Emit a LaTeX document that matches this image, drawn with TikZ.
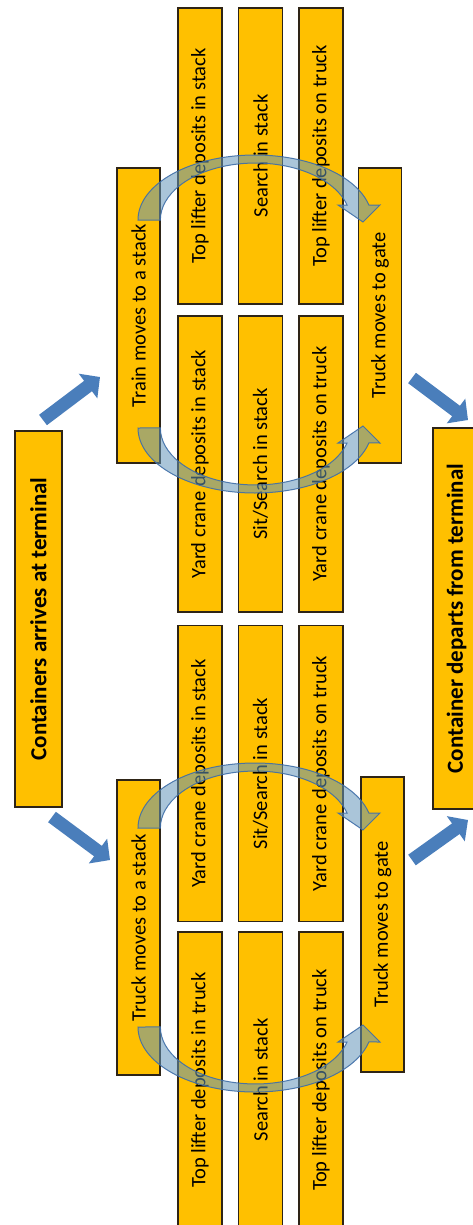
\documentclass[tikz,border=0pt]{standalone}
\usepackage{fontspec}
\setmainfont{Carlito}
\usetikzlibrary{arrows.meta}
\definecolor{boxfill}{HTML}{FFC000}
\definecolor{boxline}{HTML}{2E2416}
\definecolor{barrow}{HTML}{4A7EBB}
\definecolor{carrowfill}{RGB}{100,150,185}
\definecolor{carrowline}{HTML}{3F6EA8}
\newcommand\curvedarr[2]{%
  \begin{scope}[shift={(0,#1)}, yscale=#2]
    \path[carrow] (138,0) arc[start angle=180, end angle=346.7, x radius=117, y radius=65]
      -- (380,-15) -- (363,2) -- (338,-15) -- (347,-15)
      arc[start angle=344.7, end angle=180, x radius=95, y radius=57] -- cycle;
  \end{scope}}
\begin{document}
\begin{tikzpicture}[x=1pt,y=-1pt,
  stage/.style={draw=boxline, line width=1.5pt, fill=boxfill, rotate=90, inner sep=0pt,
    font=\fontsize{20.5}{24}\selectfont, text=black},
  colbox/.style={stage, minimum width=296pt, minimum height=44pt},
  sidebox/.style={stage, minimum width=295pt, minimum height=43pt},
  endbox/.style={stage, minimum height=47pt, font=\fontsize{23}{27}\selectfont\bfseries},
  blockarrow/.style={draw=barrow, line width=13pt, -{Triangle[length=15pt,width=30pt]}},
  carrow/.style={fill=carrowfill, fill opacity=0.55, draw=carrowline, draw opacity=0.9, line width=1pt}]
\useasboundingbox (0,0) rectangle (473,1225);
% stack operation columns
\node[colbox] (r1a) at (200,156) {Top lifter deposits in stack};
\node[colbox] (r1b) at (260.5,156) {Search in stack};
\node[colbox] (r1c) at (321,156) {Top lifter deposits on truck};
\node[colbox] (r2a) at (200,464) {Yard crane deposits in stack};
\node[colbox] (r2b) at (260.5,464) {Sit/Search in stack};
\node[colbox] (r2c) at (321,464) {Yard crane deposits on truck};
\node[colbox] (r3a) at (200,773.5) {Yard crane deposits in stack};
\node[colbox] (r3b) at (260.5,773.5) {Sit/Search in stack};
\node[colbox] (r3c) at (321,773.5) {Yard crane deposits on truck};
\node[colbox] (r4a) at (200,1080) {Top lifter deposits in truck};
\node[colbox] (r4b) at (260.5,1080) {Search in stack};
\node[colbox] (r4c) at (321,1080) {Top lifter deposits on truck};
% side boxes
\node[sidebox] (train) at (138.5,315.5) {Train moves to a stack};
\node[sidebox] (gate1) at (380,315.5) {Truck moves to gate};
\node[sidebox] (truck) at (138.5,927.5) {Truck moves to a stack};
\node[sidebox] (gate2) at (382.5,924.5) {Truck moves to gate};
% terminal boxes
\node[endbox, minimum width=376pt] (arr) at (38.5,619) {Containers arrives at terminal};
\node[endbox, minimum width=381pt] (dep) at (456.5,618.5) {Container departs from terminal};
% curved arrows
\curvedarr{220}{1}
\curvedarr{428}{-1}
\curvedarr{828}{1}
\curvedarr{1027}{-1}
% block arrows
\coordinate (a1s) at (43,420);  \coordinate (a1e) at (100,377);
\coordinate (a2s) at (52,817);  \coordinate (a2e) at (110,860);
\coordinate (a3s) at (412,378); \coordinate (a3e) at (468,420);
\coordinate (a4s) at (412,860); \coordinate (a4e) at (468,820);
\draw[blockarrow] (a1s) -- (a1e);
\draw[blockarrow] (a2s) -- (a2e);
\draw[blockarrow] (a3s) -- (a3e);
\draw[blockarrow] (a4s) -- (a4e);
\end{tikzpicture}
\end{document}
